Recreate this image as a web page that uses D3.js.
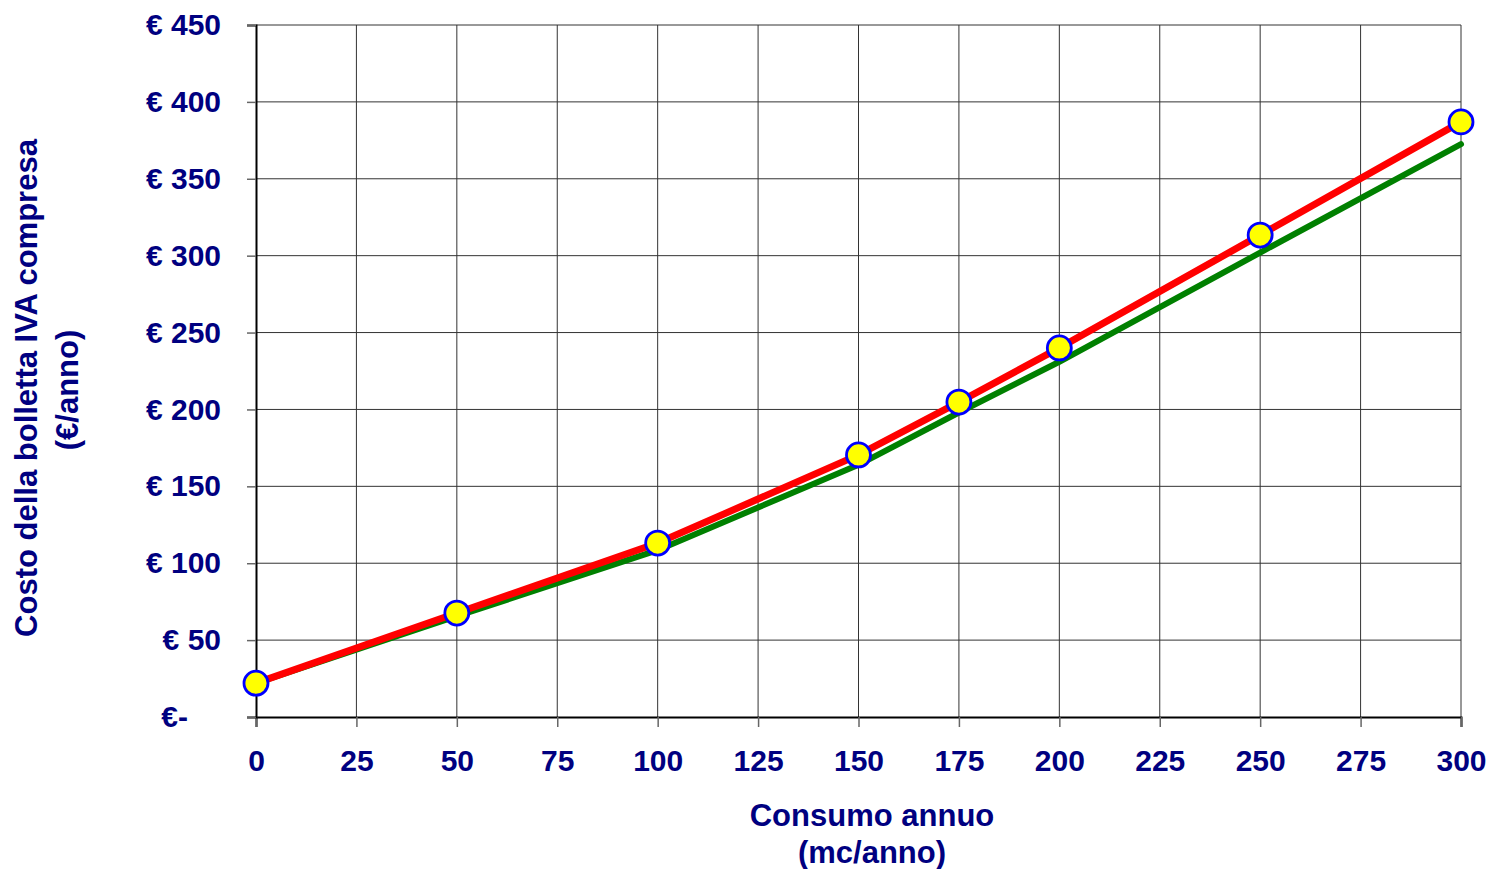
<!DOCTYPE html>
<html><head><meta charset="utf-8">
<script src="https://cdn.jsdelivr.net/npm/d3@7"></script>
<style>body{margin:0;background:#fff}svg{display:block}</style>
</head><body>
<script>
const consumo = [0, 50, 100, 150, 175, 200, 250, 300];
const costoRosso = [22, 67.6, 113.1, 170.4, 204.8, 240, 313.4, 387];
const costoVerde = [22, 65.5, 108.5, 164, 198, 231, 302, 372.5];
const xTicks = [0, 25, 50, 75, 100, 125, 150, 175, 200, 225, 250, 275, 300];
const yTicks = [0, 50, 100, 150, 200, 250, 300, 350, 400, 450];
const yTickLabels = ["€-", "€ 50", "€ 100", "€ 150", "€ 200", "€ 250", "€ 300", "€ 350", "€ 400", "€ 450"];
const xTitle = ["Consumo annuo", "(mc/anno)"];
const yTitle = ["Costo della bolletta IVA compresa", "(€/anno)"];

const W = 1490, H = 869;
const m = {left: 256, right: 29, top: 25, bottom: 152};
const navy = "#000080";
const font = "Arial, 'Liberation Sans', sans-serif";

const svg = d3.select("body").append("svg").attr("width", W).attr("height", H);
const x = d3.scaleLinear().domain([0, 300]).range([m.left, W - m.right]);
const y = d3.scaleLinear().domain([0, 450]).range([H - m.bottom, m.top]);

// grid
svg.append("g").selectAll("line").data(xTicks.slice(1)).join("line")
  .attr("x1", d => x(d)).attr("x2", d => x(d)).attr("y1", y(0)).attr("y2", y(450))
  .attr("stroke", "#333").attr("stroke-width", 1);
svg.append("g").selectAll("line").data(yTicks.slice(1)).join("line")
  .attr("x1", x(0)).attr("x2", x(300)).attr("y1", d => y(d)).attr("y2", d => y(d))
  .attr("stroke", "#333").attr("stroke-width", 1);

// axes
const xAxis = svg.append("g").attr("transform", `translate(0,${y(0)})`)
  .call(d3.axisBottom(x).tickValues(xTicks).tickSize(10).tickPadding(23).tickFormat(d => d));
const yAxis = svg.append("g").attr("transform", `translate(${x(0)},0)`)
  .call(d3.axisLeft(y).tickValues(yTicks).tickSize(9).tickPadding(26).tickFormat((d, i) => yTickLabels[i]));
[xAxis, yAxis].forEach(a => {
  a.select(".domain").attr("stroke", "#000").attr("stroke-width", 2);
  a.selectAll(".tick line").attr("stroke", "#666").attr("stroke-width", 1.5);
  a.selectAll("text").attr("fill", navy).attr("font-family", font)
    .attr("font-weight", "bold").attr("font-size", 30);
});
xAxis.selectAll("text").attr("dy", "0.71em");
yAxis.selectAll("text").attr("dx", d => d === 0 ? -33 : 0);

// lines
const line = d3.line().x((d, i) => x(consumo[i])).y(d => y(d));
svg.append("path").datum(costoVerde).attr("d", line).attr("fill", "none")
  .attr("stroke", "#008000").attr("stroke-width", 6).attr("stroke-linecap", "round");
svg.append("path").datum(costoRosso).attr("d", line).attr("fill", "none")
  .attr("stroke", "#ff0000").attr("stroke-width", 7).attr("stroke-linecap", "round");

// dots
svg.append("g").selectAll("circle").data(costoRosso).join("circle")
  .attr("cx", (d, i) => x(consumo[i])).attr("cy", d => y(d)).attr("r", 12)
  .attr("fill", "#ffff00").attr("stroke", "#0000ff").attr("stroke-width", 2.8);

// titles
const xc = 872;
const tf = 31;
svg.append("text").attr("x", xc).attr("y", 826).attr("text-anchor", "middle")
  .attr("fill", navy).attr("font-family", font).attr("font-weight", "bold").attr("font-size", tf)
  .text(xTitle[0]);
svg.append("text").attr("x", xc).attr("y", 863).attr("text-anchor", "middle")
  .attr("fill", navy).attr("font-family", font).attr("font-weight", "bold").attr("font-size", tf)
  .text(xTitle[1]);
svg.append("text").attr("transform", "translate(37,388) rotate(-90)").attr("text-anchor", "middle")
  .attr("fill", navy).attr("font-family", font).attr("font-weight", "bold").attr("font-size", tf)
  .text(yTitle[0]);
svg.append("text").attr("transform", "translate(78,390) rotate(-90)").attr("text-anchor", "middle")
  .attr("fill", navy).attr("font-family", font).attr("font-weight", "bold").attr("font-size", tf)
  .text(yTitle[1]);
</script>
</body></html>
